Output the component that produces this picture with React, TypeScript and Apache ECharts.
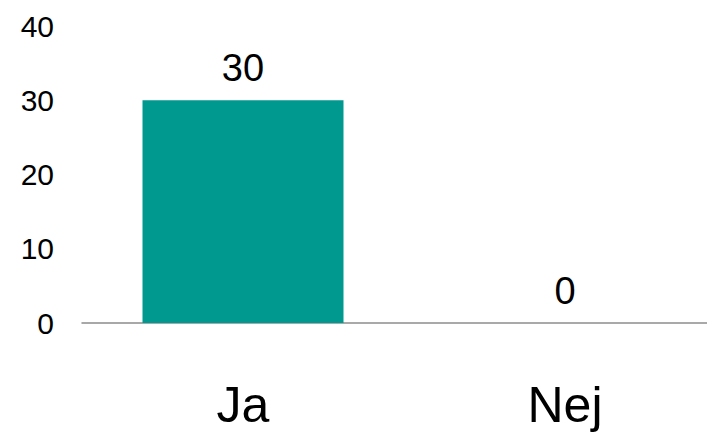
import React, { useEffect, useRef } from "react";
import * as echarts from "echarts";

const categories = ["Ja", "Nej"];
const values = [30, 0];
const yTicks = [0, 10, 20, 30, 40];

export default function App() {
  const ref = useRef<HTMLDivElement>(null);
  useEffect(() => {
    if (!ref.current) return;
    const chart = echarts.init(ref.current, null, { renderer: "svg" });
    chart.setOption({
      animation: false,
      grid: { left: 82, right: 0, top: 26, bottom: 109, containLabel: false },
      xAxis: {
        type: "category",
        data: categories,
        axisLine: { show: true, lineStyle: { color: "#8c8c8c", width: 1.5 } },
        axisTick: { show: false },
        axisLabel: {
          color: "#000",
          fontSize: 50,
          fontFamily: "Liberation Sans, Arial, sans-serif",
          margin: 57,
        },
      },
      yAxis: {
        type: "value",
        min: yTicks[0],
        max: yTicks[yTicks.length - 1],
        interval: 10,
        splitLine: { show: false },
        axisLine: { show: false },
        axisTick: { show: false },
        axisLabel: {
          color: "#000",
          fontSize: 30,
          fontFamily: "Liberation Sans, Arial, sans-serif",
          margin: 28,
        },
      },
      series: [
        {
          type: "bar",
          data: values,
          barWidth: 201,
          itemStyle: { color: "#00998F" },
          label: {
            show: true,
            position: "top",
            distance: 13,
            color: "#000",
            fontSize: 38,
            fontFamily: "Liberation Sans, Arial, sans-serif",
          },
        },
      ],
    });
    return () => chart.dispose();
  }, []);
  return (
    <div
      style={{ position: "absolute", left: 0, top: 0, width: 707, height: 432, overflow: "hidden" }}
    >
      <div ref={ref} style={{ width: 726, height: 432 }} />
    </div>
  );
}
